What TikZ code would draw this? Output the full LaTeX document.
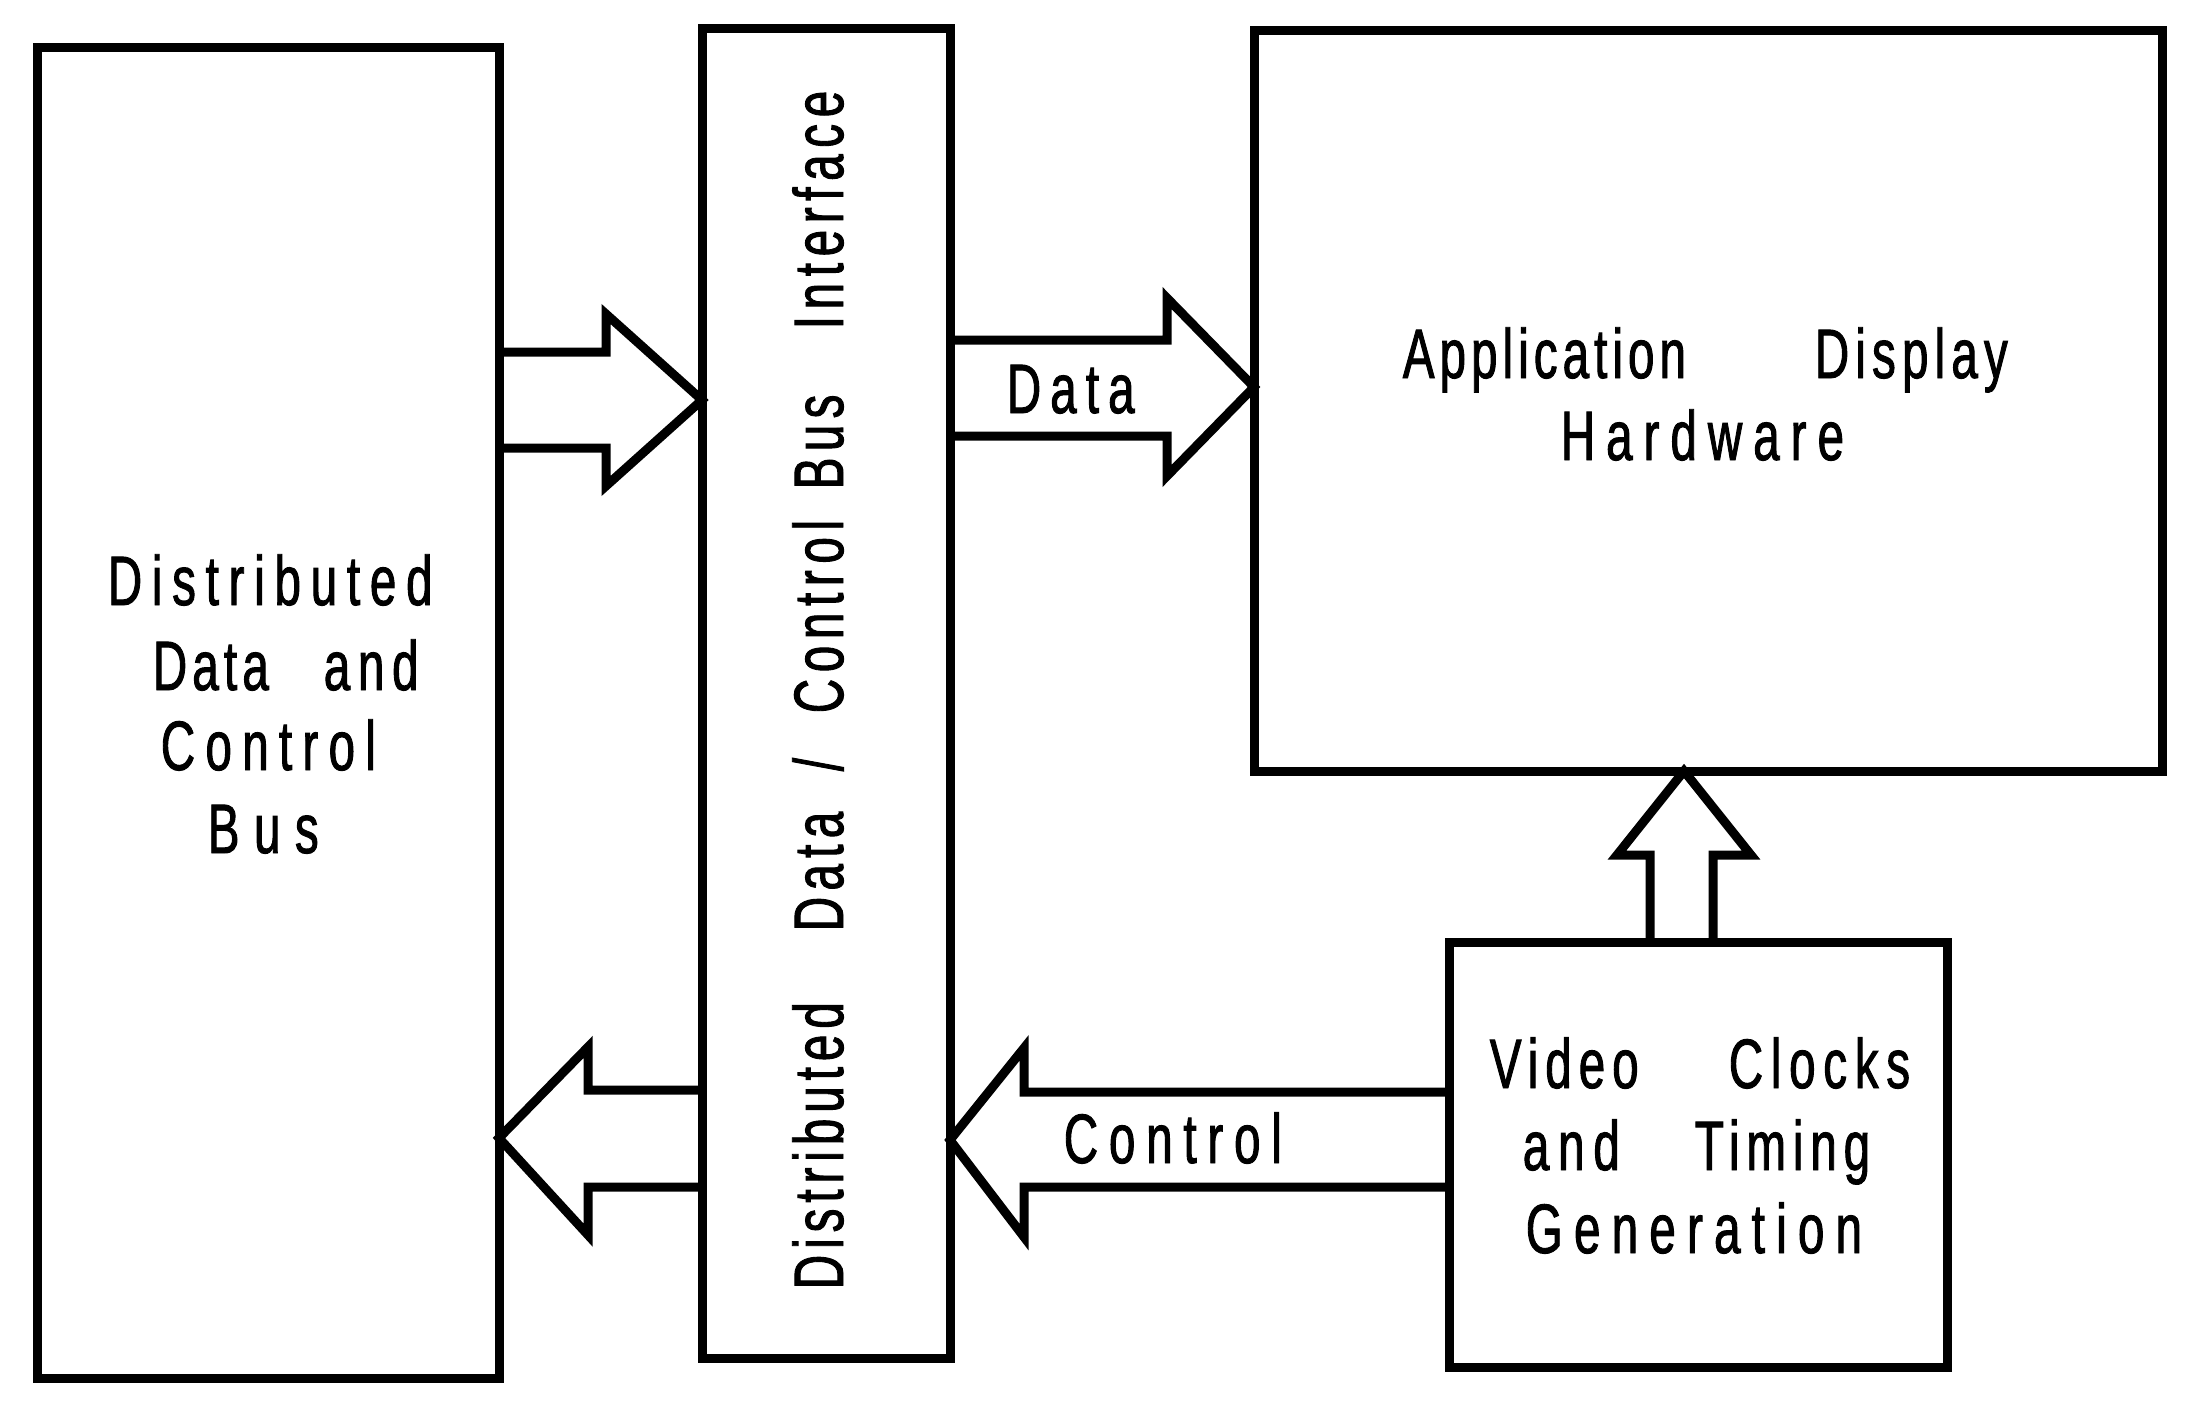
\documentclass[tikz,border=0pt]{standalone}
\usepackage{fontspec}
\newfontfamily\lblfont[FakeStretch=0.68,FakeBold=1.3]{Liberation Sans}
\newcommand\tw[2]{{\addfontfeature{LetterSpace=#1}#2}}
\begin{document}
\begin{tikzpicture}[x=0.25pt,y=-0.25pt,
  box/.style={draw, line width=2.25pt, outer sep=0pt, inner sep=0pt},
  blk/.style={draw, line width=2.25pt, line join=miter},
  lab/.style={inner sep=0pt, anchor=base west, font=\lblfont\fontsize{17.5pt}{20pt}\selectfont},
  vlab/.style={lab, rotate=90}]
\useasboundingbox[fill=white] (0,0) rectangle (2194,1413);
% boxes
\node[box, minimum width=115.5pt, minimum height=332.75pt] (L) at (268,712.5) {};
\node[box, minimum width=62pt, minimum height=332.5pt] (M) at (826,693) {};
\node[box, minimum width=227pt, minimum height=185.25pt] (A) at (1708,400.5) {};
\node[box, minimum width=124.5pt, minimum height=106.25pt] (V) at (1698,1154.5) {};
% block arrows
\draw[blk] (L.east |- 0,352) -- (606,352) -- (606,314) -- (M.west |- 0,400) -- (606,486) -- (606,448) -- (L.east |- 0,448);
\draw[blk] (M.east |- 0,340) -- (1167,340) -- (1167,298) -- (A.west |- 0,387) -- (1167,476) -- (1167,436) -- (M.east |- 0,436);
\draw[blk] (V.north -| 1650,0) -- (1650,855) -- (1617,855) -- (A.south -| 1684,0) -- (1751,855) -- (1713,855) -- (V.north -| 1713,0);
\draw[blk] (V.west |- 0,1092) -- (1024,1092) -- (1024,1048) -- (M.east |- 0,1140) -- (1024,1237) -- (1024,1187) -- (V.west |- 0,1187);
\draw[blk] (M.west |- 0,1090) -- (588,1090) -- (588,1047) -- (L.east |- 0,1138) -- (588,1235) -- (588,1187) -- (M.west |- 0,1187);
% left box text
\node[lab] (l1) at (107,605) {\tw{13.9}{Distributed}};
\node[lab] (l2) at (152,690) {\tw{7.4}{Data}};
\node[lab] (l3) at (323,690) {\tw{11}{and}};
\node[lab] (l4) at (160,770) {\tw{14.7}{Control}};
\node[lab] (l5) at (207,853) {\tw{20.7}{Bus}};
% application box text
\node[lab] (a1) at (1402,378) {\tw{7.2}{Application}};
\node[lab] (a2) at (1814,378) {\tw{8.8}{Display}};
\node[lab] (a3) at (1560,460) {\tw{15.7}{Hardware}};
% video box text
\node[lab] (v1) at (1489,1088) {\tw{10}{Video}};
\node[lab] (v2) at (1728,1088) {\tw{11}{Clocks}};
\node[lab] (v3) at (1522,1170) {\tw{12.6}{and}};
\node[lab] (v4) at (1694,1170) {\tw{9.8}{Timing}};
\node[lab] (v5) at (1525,1253) {\tw{16}{Generation}};
% arrow labels
\node[lab] (d1) at (1006,413) {\tw{13}{Data}};
\node[lab] (c1) at (1063,1163) {\tw{15.4}{Control}};
% vertical text
\node[vlab] (m1) at (843,1290) {\tw{8.5}{Distributed}};
\node[vlab] (m2) at (843,932) {\tw{9}{Data}};
\node[vlab] (m3) at (843,772) {\tw{9}{/}};
\node[vlab] (m4) at (843,714) {\tw{9.5}{Control}};
\node[vlab] (m5) at (843,490) {\tw{9}{Bus}};
\node[vlab] (m6) at (843,330) {\tw{9.5}{Interface}};
\end{tikzpicture}
\end{document}
